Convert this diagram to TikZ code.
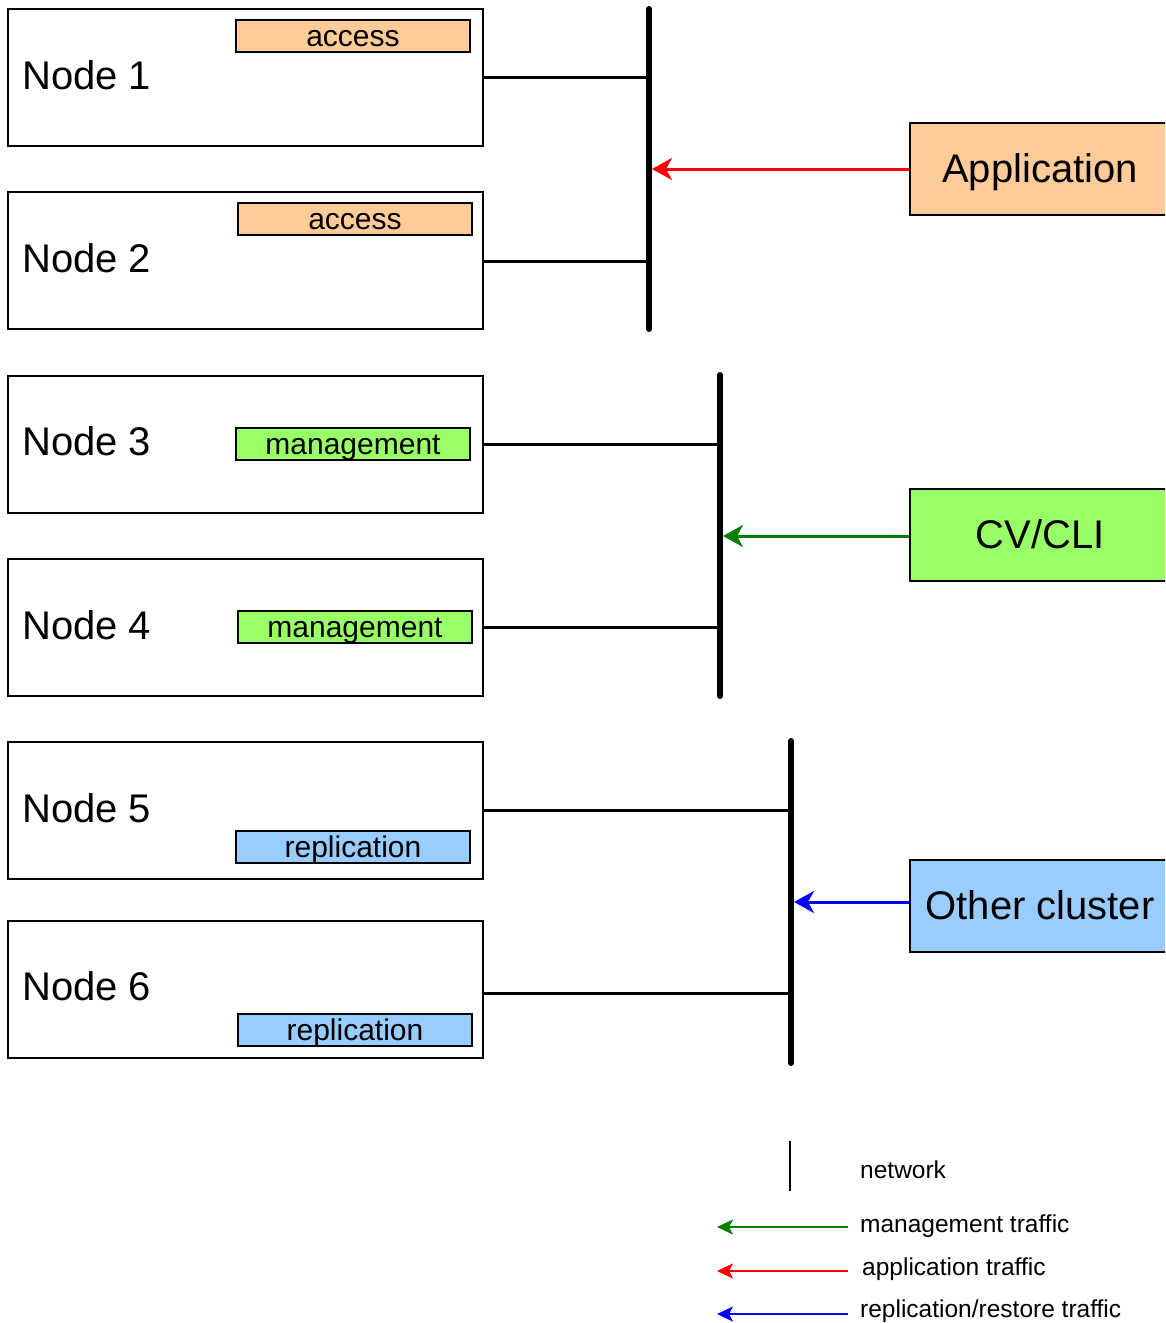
\documentclass[tikz,border=0pt]{standalone}
\usepackage{fontspec}
\setmainfont{Liberation Sans}
\usetikzlibrary{arrows.meta,positioning}
\definecolor{accessfill}{HTML}{FFCC99}
\definecolor{mgmtfill}{HTML}{99FF66}
\definecolor{replfill}{HTML}{99CCFF}
\definecolor{mgmtline}{HTML}{008000}
\tikzset{
  hostbox/.style={draw, line width=2pt, minimum width=475pt, minimum height=137pt, inner sep=0pt},
  hostname/.style={anchor=west, inner sep=0pt, font=\fontsize{40}{40}\selectfont},
  role/.style={draw, line width=2pt, minimum width=234pt, minimum height=32pt, inner sep=0pt,
    text height=26pt, text depth=5pt, font=\fontsize{30}{30}\selectfont},
  client/.style={draw, line width=2pt, minimum width=260pt, minimum height=92pt, inner sep=0pt,
    text height=35pt, text depth=8pt, font=\fontsize{40}{40}\selectfont},
  bus/.style={line width=6pt, line cap=round},
  link/.style={line width=3pt},
  traffic/.style={line width=3pt, -{Stealth[length=20pt,width=22pt,inset=6pt]}},
  legarrow/.style={line width=2pt, -{Stealth[length=16pt,width=15pt,inset=4pt]}},
  legtext/.style={anchor=west, inner sep=0pt, font=\fontsize{24.5}{24.5}\selectfont},
}
\begin{document}
\begin{tikzpicture}[x=1pt, y=-1pt]
\clip (0,0) rectangle (1165,1323);
\fill[white] (0,0) rectangle (1165,1323);

% cluster hosts
\node[hostbox] (n1) at (245.5,77.5) {};
\node[hostbox] (n2) at (245.5,260.5) {};
\node[hostbox] (n3) at (245.5,444) {};
\node[hostbox] (n4) at (245.5,627) {};
\node[hostbox] (n5) at (245.5,810) {};
\node[hostbox] (n6) at (245.5,989) {};

\node[hostname] (t1) at (22,75.5) {Node 1};
\node[hostname] (t2) at (22,258.5) {Node 2};
\node[hostname] (t3) at (22,441.5) {Node 3};
\node[hostname] (t4) at (22,625.5) {Node 4};
\node[hostname] (t5) at (22,808.5) {Node 5};
\node[hostname] (t6) at (22,986.5) {Node 6};

% interface roles
\node[role, fill=accessfill] (r1) at (353,36) {access};
\node[role, fill=accessfill] (r2) at (355,219) {access};
\node[role, fill=mgmtfill] (r3) at (353,443.5) {management};
\node[role, fill=mgmtfill] (r4) at (355,627) {management};
\node[role, fill=replfill] (r5) at (353,847) {replication};
\node[role, fill=replfill] (r6) at (355,1029.5) {replication};

% networks
\coordinate (b1top) at (649,9);
\coordinate (b1bot) at (649,329);
\coordinate (b2top) at (720,375);
\coordinate (b2bot) at (720,696);
\coordinate (b3top) at (791,741);
\coordinate (b3bot) at (791,1063);
\draw[bus] (b1top) -- (b1bot);
\draw[bus] (b2top) -- (b2bot);
\draw[bus] (b3top) -- (b3bot);

\draw[link] (n1.east |- 0,77) -- (b1top |- 0,77);
\draw[link] (n2.east |- 0,261) -- (b1top |- 0,261);
\draw[link] (n3.east |- 0,444) -- (b2top |- 0,444);
\draw[link] (n4.east |- 0,627) -- (b2top |- 0,627);
\draw[link] (n5.east |- 0,810) -- (b3top |- 0,810);
\draw[link] (n6.east |- 0,993) -- (b3top |- 0,993);

% external clients
\node[client, fill=accessfill] (app) at (1040,169) {Application};
\node[client, fill=mgmtfill] (cli) at (1040,535) {CV/CLI};
\node[client, fill=replfill] (oth) at (1040,906) {Other cluster};

\draw[traffic, red] (app.west |- 0,169) -- ([xshift=3pt]b1top |- 0,169);
\draw[traffic, mgmtline] (cli.west |- 0,536) -- ([xshift=3pt]b2top |- 0,536);
\draw[traffic, blue] (oth.west |- 0,902) -- ([xshift=3pt]b3top |- 0,902);

% legend
\coordinate (lnettop) at (790,1141);
\coordinate (lnetbot) at (790,1191);
\draw[line width=2pt] (lnettop) -- (lnetbot);
\node[legtext] (lnet) at (860,1170) {network};

\coordinate (lg1) at (848,1227);
\coordinate (lg1e) at (717,1227);
\coordinate (lr1) at (848,1271);
\coordinate (lr1e) at (717,1271);
\coordinate (lb1) at (848,1314);
\coordinate (lb1e) at (717,1314);
\draw[legarrow, mgmtline] (lg1) -- (lg1e);
\draw[legarrow, red] (lr1) -- (lr1e);
\draw[legarrow, blue] (lb1) -- (lb1e);
\node[legtext] (lgt) at (860,1226) {management traffic};
\node[legtext] (lrt) at (862,1269) {application traffic};
\node[legtext] (lbt) at (860,1311) {replication/restore traffic};
\end{tikzpicture}
\end{document}
